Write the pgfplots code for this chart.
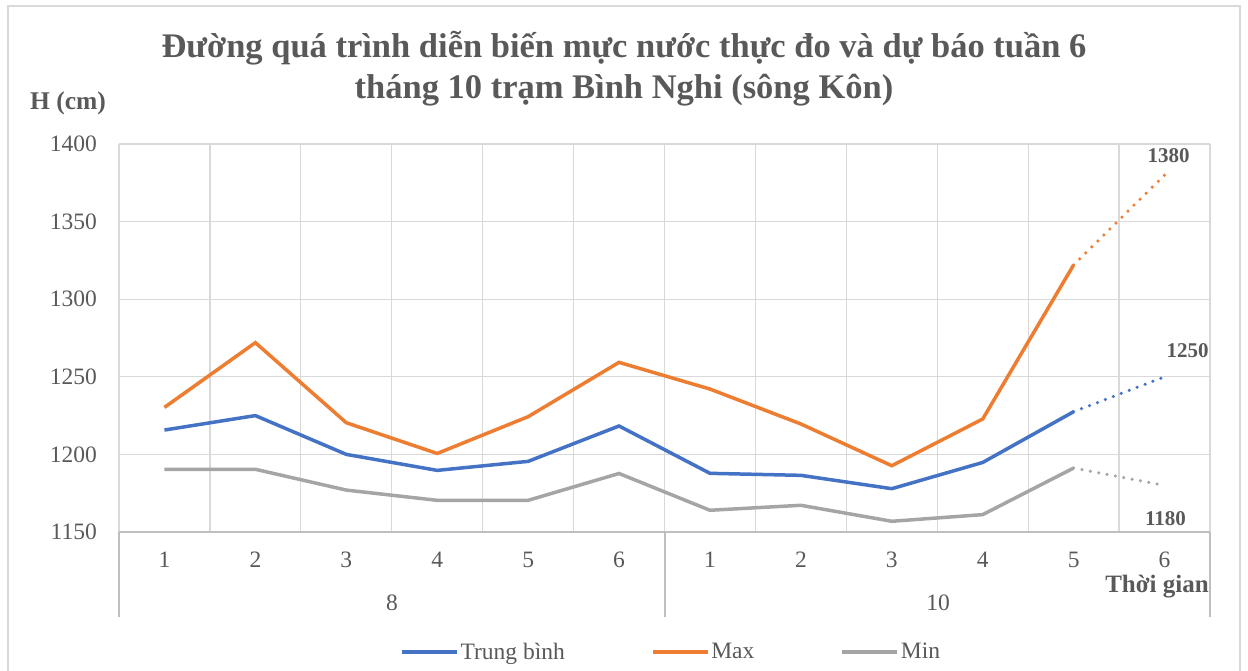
\documentclass[border=0pt]{standalone}
\usepackage{pgfplots}
\pgfplotsset{compat=1.18}
\usepackage{fontspec}
\setmainfont{Liberation Serif}
\definecolor{cblue}{HTML}{4472C4}
\definecolor{corange}{HTML}{ED7D31}
\definecolor{cgray}{HTML}{A5A5A5}
\definecolor{ctext}{HTML}{595959}
\definecolor{cgrid}{HTML}{D9D9D9}
\definecolor{caxis}{HTML}{BFBFBF}
\newcommand{\fs}[1]{\fontsize{#1}{#1}\selectfont}
\begin{document}
\begin{tikzpicture}[x=1pt,y=1pt]
\useasboundingbox (0,0) rectangle (1248,671);
\draw[cgrid,line width=1.5pt] (8,0) -- (8,665) -- (1240,665) -- (1240,0);
\node[anchor=base,font=\fs{34.5}\bfseries,text=ctext] at (624,613) {Đường quá trình diễn biến mực nước thực đo và dự báo tuần 6};
\node[anchor=base,font=\fs{34.5}\bfseries,text=ctext] at (624,572) {tháng 10 trạm Bình Nghi (sông Kôn)};
\node[font=\fs{25.5}\bfseries,text=ctext] at (68,568) {H (cm)};
\begin{axis}[
 at={(119pt,139pt)}, anchor=south west,
 scale only axis, width=1091pt, height=388pt,
 xmin=0.5, xmax=12.5, ymin=1150, ymax=1400,
 ytick={1150,1200,...,1400},
 xtick={1,...,12}, xticklabels={1,2,3,4,5,6,1,2,3,4,5,6},
 minor xtick={0.5,1.5,...,12.5},
 ymajorgrids, xminorgrids,
 grid style={cgrid, line width=1.2pt},
 minor grid style={cgrid, line width=1.2pt},
 axis line style={draw=none},
 major tick style={draw=none}, minor tick style={draw=none},
 /pgf/number format/assume math mode=true,
 /pgf/number format/set thousands separator={},
 ticklabel style={font=\fs{23.5}, text=ctext},
 yticklabel style={anchor=east, inner sep=0pt, xshift=-22pt},
 xticklabel style={anchor=north, inner sep=0pt, yshift=-19.5pt},
 clip=false,
 legend columns=3,
 legend style={draw=none, fill=none, at={(0.506,-0.309)}, anchor=center, font=\fs{23.5}, text=ctext,
   /tikz/every odd column/.append style={column sep=0pt},
   /tikz/every even column/.append style={column sep=84pt}},
 legend image code/.code={\draw[#1] (0pt,0pt) -- (55pt,0pt);},
]
\addplot[cblue, line width=3.5pt] coordinates {(1,1215.7)(2,1225)(3,1200)(4,1189.7)(5,1195.5)(6,1218.3)(7,1187.8)(8,1186.5)(9,1177.9)(10,1194.8)(11,1227.5)};
\addlegendentry{Trung bình}
\addplot[corange, line width=3.5pt] coordinates {(1,1230.3)(2,1272)(3,1220.4)(4,1200.6)(5,1224.3)(6,1259.3)(7,1242.1)(8,1219.6)(9,1192.7)(10,1222.8)(11,1322.1)};
\addlegendentry{Max}
\addplot[cgray, line width=3.5pt] coordinates {(1,1190.4)(2,1190.4)(3,1177)(4,1170.4)(5,1170.4)(6,1187.7)(7,1164)(8,1167.2)(9,1156.9)(10,1161.2)(11,1191.2)};
\addlegendentry{Min}
\addplot[cblue, line width=3.5pt, line cap=round, dash pattern=on 0pt off 8.5pt, forget plot] coordinates {(11,1227.5)(12,1250)};
\addplot[corange, line width=3.5pt, line cap=round, dash pattern=on 0pt off 8.5pt, forget plot] coordinates {(11,1322.1)(12,1380)};
\addplot[cgray, line width=3.5pt, line cap=round, dash pattern=on 0pt off 8.5pt, forget plot] coordinates {(11,1191.2)(12,1180)};
\node[font=\fs{21}\bfseries, text=ctext, xshift=4pt, yshift=19pt] at (axis cs:12,1380) {1380};
\node[font=\fs{21}\bfseries, text=ctext, xshift=23pt, yshift=26pt] at (axis cs:12,1250) {1250};
\node[font=\fs{21}\bfseries, text=ctext, xshift=1pt, yshift=-33pt] at (axis cs:12,1180) {1180};
\end{axis}
\draw[caxis, line width=1.2pt] (119,139) -- (1210,139);
\draw[caxis, line width=1.2pt] (119,139) -- (119,54);
\draw[caxis, line width=1.2pt] (665,139) -- (665,54);
\draw[caxis, line width=1.2pt] (1210,139) -- (1210,54);
\node[font=\fs{23.5}, text=ctext] at (392,68) {8};
\node[font=\fs{23.5}, text=ctext] at (938,68) {10};
\node[font=\fs{25}\bfseries, text=ctext] at (1157,84) {Thời gian};
\end{tikzpicture}
\end{document}
